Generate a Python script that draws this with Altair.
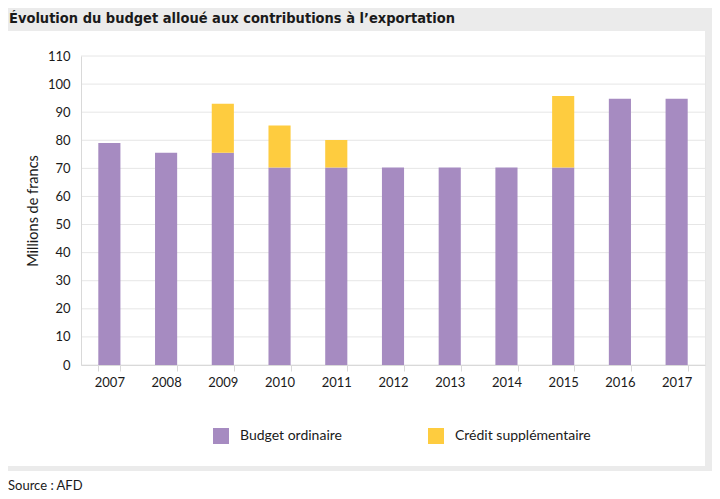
import altair as alt
import pandas as pd

years = ["2007", "2008", "2009", "2010", "2011", "2012", "2013", "2014", "2015", "2016", "2017"]
budget = [79.0, 75.6, 75.6, 70.3, 70.3, 70.3, 70.3, 70.3, 70.3, 94.8, 94.8]
credit = [0.0, 0.0, 17.4, 15.0, 9.8, 0.0, 0.0, 0.0, 25.5, 0.0, 0.0]
series = ["Budget ordinaire", "Crédit supplémentaire"]
colors = ["#a68bc1", "#fecc3f"]
y_ticks = list(range(0, 111, 10))
title_text = "Évolution du budget alloué aux contributions à l’exportation"
source_text = "Source : AFD"
y_title = "Millions de francs"

rows = []
for yr, b, c in zip(years, budget, credit):
    rows.append({"year": yr, "series": series[0], "value": b, "ord": 0})
    if c > 0:
        rows.append({"year": yr, "series": series[1], "value": c, "ord": 1})
df = pd.DataFrame(rows)

W, H = 624, 309
FONT = "Lato"
TFONT = "DejaVu Sans Condensed"

one = pd.DataFrame({"a": [0]})

y_axis = alt.Axis(values=y_ticks, title=y_title, ticks=False,
                  labelPadding=11, grid=False, labelOverlap=False,
                  domainColor="#d9d9d9", titlePadding=7, titleFontSize=14.5,
                  titleFontWeight="normal", zindex=1)
y_scale = alt.Scale(domain=[0, 110], nice=False)

panel = alt.Chart(one).mark_rect(color="white").encode(
    x=alt.value(-73), x2=alt.value(W), y=alt.value(-25), y2=alt.value(410)
)
bottom = alt.Chart(one).mark_rect(color="white").encode(
    x=alt.value(-73), x2=alt.value(W + 7), y=alt.value(415), y2=alt.value(439)
)
title = alt.Chart(pd.DataFrame({"t": [title_text]})).mark_text(
    align="left", baseline="alphabetic", font=TFONT, fontSize=14.5,
    fontWeight="bold", color="#1a1a1a"
).encode(text="t:N", x=alt.value(-72), y=alt.value(-33))
source = alt.Chart(pd.DataFrame({"t": [source_text]})).mark_text(
    align="left", baseline="middle", font=FONT, fontSize=13, color="#1a1a1a"
).encode(text="t:N", x=alt.value(-73), y=alt.value(430))

grid_layer = alt.Chart(pd.DataFrame({"v": y_ticks})).mark_rule(
    color="#e6e6e6", strokeWidth=1
).encode(y=alt.Y("v:Q", scale=y_scale, axis=y_axis))

bars = alt.Chart(df).mark_bar().encode(
    x=alt.X("year:N", sort=years, title=None,
            scale=alt.Scale(paddingInner=0.61, paddingOuter=0.305),
            axis=alt.Axis(labelAngle=0, tickBand="extent", tickSize=6,
                          tickColor="#d9d9d9", domainColor="#d9d9d9",
                          labelPadding=5, grid=False, zindex=1)),
    y=alt.Y("value:Q", stack="zero", scale=y_scale, axis=y_axis),
    color=alt.Color("series:N", scale=alt.Scale(domain=series, range=colors),
                    legend=alt.Legend(title=None, orient="none", legendX=132,
                                      legendY=372, direction="horizontal",
                                      symbolType="square", symbolSize=256,
                                      symbolStrokeWidth=0, labelFontSize=14,
                                      labelOffset=11, columnPadding=86,
                                      labelFont=FONT, labelColor="#1a1a1a")),
    order=alt.Order("ord:Q"),
)

chart = alt.layer(panel, bottom, title, source, grid_layer, bars).properties(
    width=W, height=H,
    autosize=alt.AutoSizeParams(type="none"),
    padding={"left": 73, "top": 48, "right": 7, "bottom": 130},
    background="#ebebeb",
).configure_view(stroke="#e6e6e6").configure_axis(
    labelFont=FONT, labelFontSize=13, labelColor="#1a1a1a",
    titleFont=FONT, titleFontSize=13, titleColor="#1a1a1a",
)

chart.save("out.html", embed_options={"renderer": "svg", "actions": False})
